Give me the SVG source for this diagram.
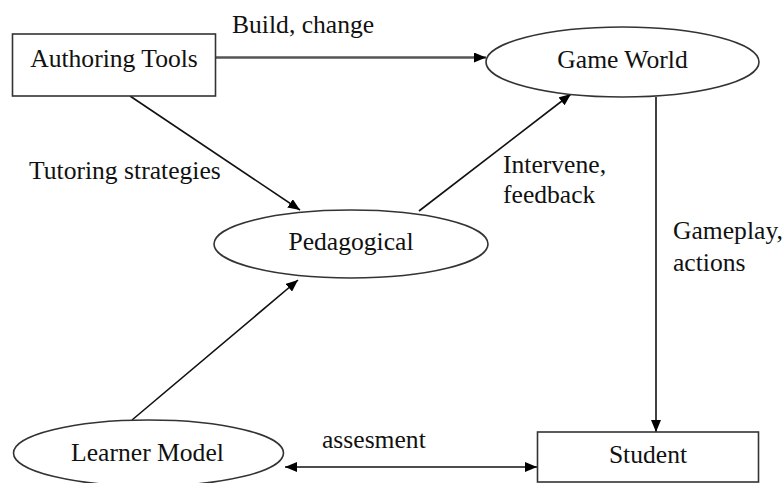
<svg xmlns="http://www.w3.org/2000/svg" width="784" height="483" viewBox="0 0 784 483" font-family="Liberation Serif, DejaVu Serif, serif" font-size="25.6">
<defs>
<marker id="arr" viewBox="0 0 12 10" refX="12" refY="5" markerWidth="12" markerHeight="10" markerUnits="userSpaceOnUse" orient="auto-start-reverse">
<path d="M0,0 L12,5 L0,10 z" fill="#000"/>
</marker>
<style>
text{fill:#111}
.n{fill:#fff;stroke:#333;stroke-width:1.6}
.c{fill:none;stroke:#111;stroke-width:1.6}
.m{text-anchor:middle}
</style>
</defs>
<rect width="784" height="483" fill="#fff"/>
<g id="connectors">
<line class="c" x1="216" y1="57.5" x2="486" y2="57.5" style="stroke:#555;stroke-width:2.6" marker-end="url(#arr)"/>
<line class="c" x1="130" y1="96" x2="300" y2="210" marker-end="url(#arr)"/>
<line class="c" x1="419" y1="211" x2="571" y2="94" marker-end="url(#arr)"/>
<line class="c" x1="656" y1="97" x2="656" y2="432" marker-end="url(#arr)"/>
<line class="c" x1="132" y1="420" x2="298" y2="280" marker-end="url(#arr)"/>
<line class="c" x1="285" y1="467" x2="537" y2="467" marker-start="url(#arr)" marker-end="url(#arr)"/>
<text x="232" y="33">Build, change</text>
<text x="29" y="179">Tutoring strategies</text>
<text x="503" y="173">Intervene,</text>
<text x="503" y="203">feedback</text>
<text x="673" y="239">Gameplay,</text>
<text x="673" y="271">actions</text>
<text x="322" y="448">assesment</text>
</g>
<g id="authoring-tools">
<rect class="n" x="12.5" y="34" width="203" height="62"/>
<text class="m" x="114" y="67">Authoring Tools</text>
</g>
<g id="game-world">
<ellipse class="n" cx="622.5" cy="62" rx="136.5" ry="35"/>
<text class="m" x="622.5" y="68">Game World</text>
</g>
<g id="pedagogical">
<ellipse class="n" cx="351" cy="244" rx="137" ry="34"/>
<text class="m" x="351" y="250">Pedagogical</text>
</g>
<g id="learner-model">
<ellipse class="n" cx="148.5" cy="453" rx="135" ry="33"/>
<text class="m" x="147.5" y="461">Learner Model</text>
</g>
<g id="student">
<rect class="n" x="537.5" y="432" width="221" height="50"/>
<text class="m" x="648" y="463">Student</text>
</g>
</svg>
